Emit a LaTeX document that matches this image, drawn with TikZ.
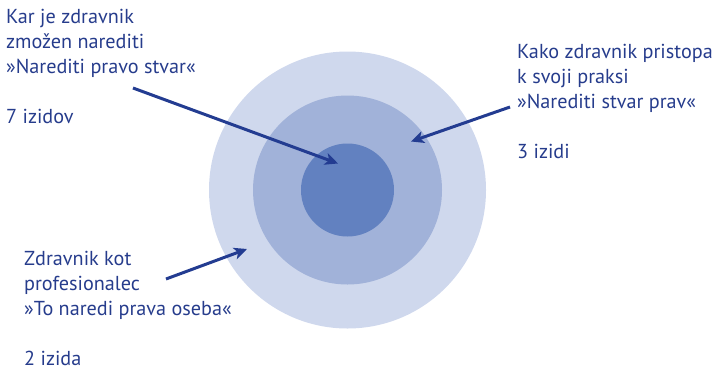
\documentclass[tikz,border=0pt]{standalone}
\usepackage{fontspec}
\setmainfont{PT Sans}
\usetikzlibrary{arrows.meta}

\definecolor{txtblue}{RGB}{38,60,140}
\definecolor{arrblue}{RGB}{35,60,145}
\definecolor{ringA}{RGB}{207,216,237}
\definecolor{ringB}{RGB}{161,178,217}
\definecolor{ringC}{RGB}{98,129,192}

\begin{document}
\begin{tikzpicture}[x=1pt,y=-1pt]

		\tikzset{
			disc/.style={
				circle,
				draw=none,
				inner sep=0pt,
				outer sep=0pt
			},
			txt/.style={
				anchor=base west,
				align=left,
				inner sep=0pt,
				text=txtblue,
				font=\fontsize{20.2}{25}\selectfont
			},
			arr/.style={
				-{Stealth[length=13pt,width=12pt,inset=3.5pt]},
				line width=3pt,
				draw=arrblue
			}
		}

		\useasboundingbox (0,0) rectangle (722,370);

		\node[disc,fill=ringA,minimum size=277pt] (outer) at (347.5,190) {};
		\node[disc,fill=ringB,minimum size=189pt] (middle) at (347.5,190) {};
		\node[disc,fill=ringC,minimum size=93pt] (inner) at (347.5,190) {};

		\node[txt] (ability) at (6,123)
		{Kar je zdravnik\\zmožen narediti\\»Narediti pravo stvar«\\[25pt]7 izidov};

		\node[txt] (approach) at (517,158)
		{Kako zdravnik pristopa\\k svoji praksi\\»Narediti stvar prav«\\[25pt]3 izidi};

		\node[txt] (profession) at (24,365.5)
		{Zdravnik kot\\profesionalec\\»To naredi prava oseba«\\[25pt]2 izida};

		\coordinate (abilityStart) at (133,88);
		\coordinate (abilityTip) at (338,163.5);
		\coordinate (approachStart) at (510,107);
		\coordinate (approachTip) at (411,141.5);
		\coordinate (professionStart) at (166,279);
		\coordinate (professionTip) at (247,249);

		\draw[arr] (abilityStart)--(abilityTip);
		\draw[arr] (approachStart)--(approachTip);
		\draw[arr] (professionStart)--(professionTip);

	\end{tikzpicture}
\end{document}
